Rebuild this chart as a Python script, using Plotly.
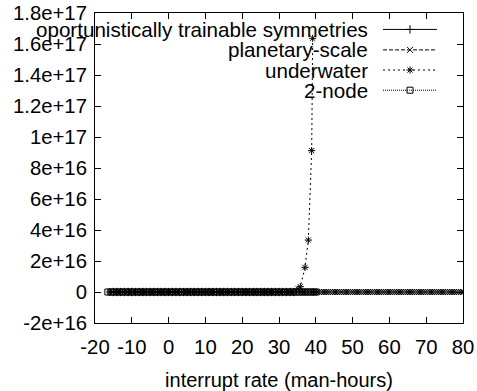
import plotly.graph_objects as go

# ---------------- data ----------------
SERIES_NAMES = ["oportunistically trainable symmetries", "planetary-scale", "underwater", "2-node"]

OPP_X = [-15, -14, -13, -12, -11, -10, -9, -8, -7, -6, -5, -4, -3, -2, -1, 0, 1, 2, 3, 4,
         5, 6, 7, 8, 9, 10, 11, 12, 13, 14, 15, 16, 17, 18, 19, 20, 21, 22, 23, 24,
         25, 26, 27, 28, 29, 30, 31, 32, 33, 34]
OPP_Y = [0] * len(OPP_X)

PLAN_X = [-14, -12, -10, -8, -6, -4, -2, 0, 2, 4, 6, 8, 10, 12, 14, 16, 18, 20, 22, 24,
          26, 28, 30, 32, 34,
          35.0, 35.6, 36.2, 36.8, 37.4, 38.0, 38.6, 39.2, 39.8, 40.4, 41.0, 41.6, 42.2, 42.8,
          43.4, 44.0, 44.6, 45.2, 45.8, 46.4, 47.0, 47.6, 48.2, 48.8, 49.4, 50.0, 50.6, 51.2,
          51.8, 52.4, 53.0, 53.6, 54.2, 54.8, 55.4, 56.0, 56.6, 57.2, 57.8, 58.4, 59.0, 59.6,
          60.2, 60.8, 61.4, 62.0, 62.6, 63.2, 63.8, 64.4, 65.0, 65.6, 66.2, 66.8, 67.4, 68.0,
          68.6, 69.2, 69.8, 70.4, 71.0, 71.6, 72.2, 72.8, 73.4, 74.0, 74.6, 75.2, 75.8, 76.4,
          77.0, 77.6, 78.2, 78.8, 79.4, 80.0]
PLAN_Y = [0] * len(PLAN_X)

UNDER_X = [-16, -15, -14, -13, -12, -11, -10, -9, -8, -7, -6, -5, -4, -3, -2, -1, 0, 1, 2, 3,
           4, 5, 6, 7, 8, 9, 10, 11, 12, 13, 14, 15, 16, 17, 18, 19, 20, 21, 22, 23,
           24, 25, 26, 27, 28, 29, 30, 31, 32, 33, 34, 35.2, 35.8, 37.07, 37.97, 38.88, 39.15]
UNDER_Y = [0] * 51 + [2.0e15, 3.4e15, 1.59e16, 3.35e16, 9.12e16, 1.637e17]

NODE_X = [-16.5, -15.7, -14.9, -14.1, -13.3, -12.5, -11.7, -10.9, -10.1, -9.3, -8.5, -7.7,
          -6.9, -6.1, -5.3, -4.5, -3.7, -2.9, -2.1, -1.3, -0.5, 0.3, 1.1, 1.9, 2.7, 3.5,
          4.3, 5.1, 5.9, 6.7, 7.5, 8.3, 9.1, 9.9, 10.7, 11.5, 12.3, 13.1, 13.9, 14.7, 15.5,
          16.3, 17.1, 17.9, 18.7, 19.5, 20.3, 21.1, 21.9, 22.7, 23.5, 24.3, 25.1, 25.9,
          26.7, 27.5, 28.3, 29.1, 29.9, 30.7, 31.5, 32.3, 33.1, 33.9, 34.7, 35.5, 36.3,
          37.1, 37.9, 38.7, 39.5, 40.1]
NODE_Y = [0] * len(NODE_X)

X_TICKS = [-20, -10, 0, 10, 20, 30, 40, 50, 60, 70, 80]
Y_TICK_VALS = [-2e16, 0, 2e16, 4e16, 6e16, 8e16, 1e17, 1.2e17, 1.4e17, 1.6e17, 1.8e17]
Y_TICK_TEXT = ["-2e+16", "0", "2e+16", "4e+16", "6e+16", "8e+16", "1e+17",
               "1.2e+17", "1.4e+17", "1.6e+17", "1.8e+17"]

# ---------------- styles ----------------
FONT = "Liberation Sans, Arial, Helvetica, sans-serif"
STYLES = [
    dict(dash="solid", symbol="cross-thin-open"),
    dict(dash="4px,2px", symbol="x-thin-open"),
    dict(dash="2px,3px", symbol="asterisk-open"),
    dict(dash="1px,1px", symbol="square-open"),
]
DATA = [(OPP_X, OPP_Y), (PLAN_X, PLAN_Y), (UNDER_X, UNDER_Y), (NODE_X, NODE_Y)]

fig = go.Figure()
for (xs, ys), st, name in zip(DATA, STYLES, SERIES_NAMES):
    fig.add_trace(go.Scatter(
        x=xs, y=ys, name=name, mode="lines+markers",
        line=dict(color="black", width=1, dash=st["dash"]),
        marker=dict(symbol=st["symbol"], size=6, color="black",
                    line=dict(color="black", width=1)),
        showlegend=False, cliponaxis=True,
    ))

# ---------------- gnuplot-style key (text, then sample) ----------------
KEY_TEXT_X = 0.747
KEY_LINE_X0, KEY_LINE_X1, KEY_MARK_X = 0.7826, 0.9293, 0.856
KEY_ROWS = [0.947, 0.881, 0.816, 0.751]
for i, (st, name) in enumerate(zip(STYLES, SERIES_NAMES)):
    yk = KEY_ROWS[i]
    fig.add_trace(go.Scatter(
        x=[KEY_LINE_X0, KEY_LINE_X1], y=[yk, yk], mode="lines",
        line=dict(color="black", width=1, dash=st["dash"]),
        xaxis="x2", yaxis="y2", showlegend=False, hoverinfo="skip"))
    fig.add_trace(go.Scatter(
        x=[KEY_MARK_X], y=[yk], mode="markers",
        marker=dict(symbol=st["symbol"], size=6, color="black",
                    line=dict(color="black", width=1)),
        xaxis="x2", yaxis="y2", showlegend=False, hoverinfo="skip"))
    fig.add_annotation(x=KEY_TEXT_X, y=yk, xref="paper", yref="paper",
                       text=name, showarrow=False, xanchor="right", yanchor="middle",
                       font=dict(family=FONT, size=20.6, color="black"))

axis_common = dict(showline=True, linecolor="black", linewidth=1, mirror="ticks",
                   ticks="inside", ticklen=6, tickcolor="black", tickwidth=1,
                   showgrid=False, zeroline=False, automargin=False,
                   tickfont=dict(family=FONT, size=20.3, color="black"))

fig.update_layout(
    width=477, height=391,
    margin=dict(l=95, r=14, t=13, b=68),
    paper_bgcolor="white", plot_bgcolor="white",
    font=dict(family=FONT, size=20, color="black"),
    xaxis=dict(range=[-20, 80], tickvals=X_TICKS, ticktext=[str(v) for v in X_TICKS],
               ticklabelstandoff=6,
               title=dict(text="interrupt rate (man-hours)", standoff=16,
                          font=dict(family=FONT, size=20, color="black")),
               **axis_common),
    yaxis=dict(range=[-2e16, 1.8e17], tickvals=Y_TICK_VALS, ticktext=Y_TICK_TEXT,
               ticklabelstandoff=3,
               **axis_common),
    xaxis2=dict(range=[0, 1], overlaying="x", visible=False, fixedrange=True),
    yaxis2=dict(range=[0, 1], overlaying="y", visible=False, fixedrange=True),
)

fig.write_html("out.html")
